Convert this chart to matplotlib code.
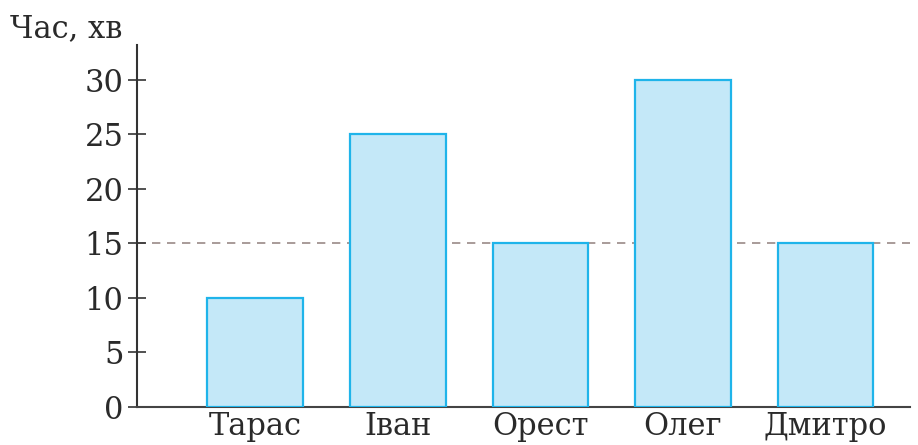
import matplotlib
matplotlib.use('Agg')
import matplotlib.pyplot as plt

names = ['Тарас', 'Іван', 'Орест', 'Олег', 'Дмитро']
minutes = [10, 25, 15, 30, 15]
average = 15
yticks = [0, 5, 10, 15, 20, 25, 30]

plt.rcParams['font.family'] = ['DejaVu Serif']

fig = plt.figure(figsize=(9.18, 4.45), dpi=100)
ax = fig.add_axes([0.149, 0.0854, 0.842, 0.8136])

x = list(range(len(names)))
ax.bar(x, minutes, width=0.67, color='#c4e8f8', edgecolor='#1fb4ea', linewidth=1.6, zorder=3)
ax.axhline(average, color='#9a8a88', linestyle=(0, (5, 4)), linewidth=1.2, zorder=1)

ax.set_xlim(-0.83, 4.59)
ax.set_ylim(0, 33.2)
ax.set_xticks(x)
ax.set_xticklabels(names, fontsize=22, color='#2a2a2a')
ax.set_yticks(yticks)
ax.tick_params(axis='y', labelsize=22, labelcolor='#2a2a2a', direction='inout',
               length=13, width=1.2, color='#333333', pad=3)
ax.tick_params(axis='x', length=0, pad=3)

for side in ['top', 'right']:
    ax.spines[side].set_visible(False)
ax.spines['left'].set_color('#333333')
ax.spines['left'].set_linewidth(1.5)
ax.spines['bottom'].set_color('#444444')
ax.spines['bottom'].set_linewidth(1.5)

fig.text(0.011, 0.935, 'Час, хв', fontsize=22, color='#2a2a2a', ha='left', va='center')

fig.savefig('out.png', dpi=100)
